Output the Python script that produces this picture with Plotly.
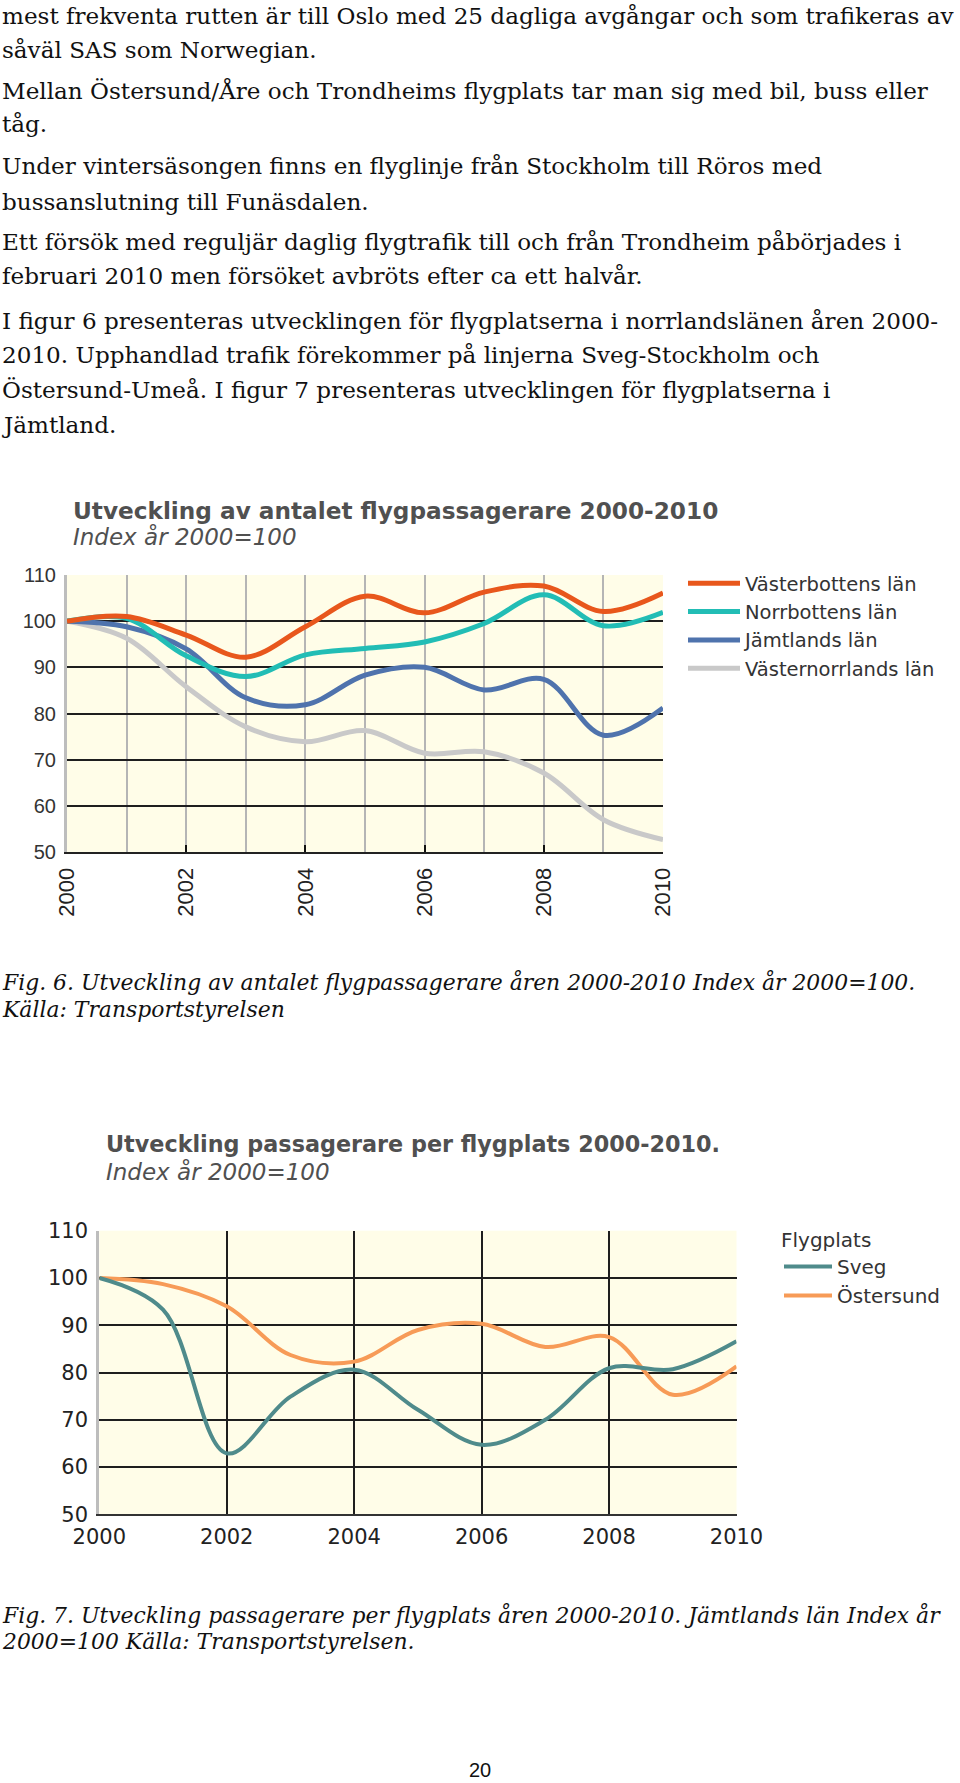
import plotly.graph_objects as go

W, H = 960, 1783

years = list(range(2000, 2011))

# Fig. 6 – index 2000 = 100, per län
vasterbotten = [100, 101.0, 97.0, 92.2, 98.8, 105.4, 101.8, 106.3, 107.6, 102.1, 106.1]
norrbotten = [100, 100.6, 92.5, 88.0, 92.7, 94.1, 95.5, 99.5, 105.7, 99.0, 101.9]
jamtland = [100, 98.8, 94.0, 83.4, 81.9, 88.3, 90.0, 85.1, 87.4, 75.3, 81.2]
vasternorrland = [100, 96.3, 85.8, 77.1, 73.9, 76.3, 71.4, 71.7, 67.1, 57.0, 52.7]

# Fig. 7 – index 2000 = 100, per flygplats
sveg = [100, 93.3, 62.9, 74.9, 80.6, 72.1, 64.7, 70.0, 80.9, 80.7, 86.6]
ostersund = [100, 98.7, 94.0, 83.7, 82.3, 89.0, 90.3, 85.4, 87.5, 75.3, 81.3]

body_lines = [
    "mest frekventa rutten är till Oslo med 25 dagliga avgångar och som trafikeras av",
    "såväl SAS som Norwegian.",
    "Mellan Östersund/Åre och Trondheims flygplats tar man sig med bil, buss eller",
    "tåg.",
    "Under vintersäsongen finns en flyglinje från Stockholm till Röros med",
    "bussanslutning till Funäsdalen.",
    "Ett försök med reguljär daglig flygtrafik till och från Trondheim påbörjades i",
    "februari 2010 men försöket avbröts efter ca ett halvår.",
    "I figur 6 presenteras utvecklingen för flygplatserna i norrlandslänen åren 2000-",
    "2010. Upphandlad trafik förekommer på linjerna Sveg-Stockholm och",
    "Östersund-Umeå. I figur 7 presenteras utvecklingen för flygplatserna i",
    "Jämtland.",
]
body_y = [16, 50, 90, 124, 166, 202, 242, 276, 321, 355, 390, 425]

cap6 = ["Fig. 6. Utveckling av antalet flygpassagerare åren 2000-2010 Index år 2000=100.",
        "Källa: Transportstyrelsen"]
cap6_y = [982, 1009]
cap7 = ["Fig. 7. Utveckling passagerare per flygplats åren 2000-2010. Jämtlands län Index år",
        "2000=100 Källa: Transportstyrelsen."]
cap7_y = [1615, 1641]


def px(x):
    return x / W


def py(y):
    return 1 - y / H


fig = go.Figure()

# chart 1 (drawn bottom-up so the orange line is on top)
c1 = [("Västernorrlands län", vasternorrland, "#C9C9C9"),
      ("Jämtlands län", jamtland, "#4F73AD"),
      ("Norrbottens län", norrbotten, "#22BDB5"),
      ("Västerbottens län", vasterbotten, "#E8571C")]
for name, vals, col in c1:
    fig.add_trace(go.Scatter(x=years, y=vals, name=name, mode="lines",
                             line=dict(color=col, width=5, shape="spline", smoothing=1),
                             xaxis="x", yaxis="y", legend="legend", hoverinfo="skip"))

c2 = [("Östersund", ostersund, "#F79B57"),
      ("Sveg", sveg, "#4F8B8B")]
for name, vals, col in c2:
    fig.add_trace(go.Scatter(x=years, y=vals, name=name, mode="lines",
                             line=dict(color=col, width=4, shape="spline", smoothing=1),
                             xaxis="x2", yaxis="y2", legend="legend2", hoverinfo="skip"))

bg = "#FFFDE8"

fig.update_layout(
    width=W, height=H,
    margin=dict(l=0, r=0, t=0, b=0, autoexpand=False),
    paper_bgcolor="white",
    plot_bgcolor=bg,
    showlegend=True,
    xaxis=dict(domain=[px(67), px(663)], range=[2000, 2010], anchor="y",
               tickmode="linear", tick0=2000, dtick=2, tickangle=-90,
               ticks="inside", ticklen=7, tickwidth=2, tickcolor="#111",
               showgrid=True, gridcolor="#B5B5B5", gridwidth=2,
               minor=dict(tickmode="linear", tick0=2000, dtick=1, showgrid=True,
                          gridcolor="#B5B5B5", gridwidth=2),
               showline=True, linecolor="#222", linewidth=2, zeroline=False,
               automargin=False,
               tickfont=dict(family="Liberation Sans", size=22, color="#222"),
               ticklabelstandoff=5),
    yaxis=dict(domain=[py(852), py(575)], range=[50, 110], anchor="x",
               tickmode="linear", tick0=50, dtick=10,
               showgrid=True, gridcolor="#1E1E1E", gridwidth=1.5,
               showline=True, linecolor="#BDBDBD", linewidth=3, zeroline=False,
               automargin=False,
               ticks="", tickfont=dict(family="Liberation Sans", size=20, color="#333"),
               ticklabelstandoff=4),
    xaxis2=dict(domain=[px(99.3), px(736.5)], range=[2000, 2010], anchor="y2",
                tickmode="linear", tick0=2000, dtick=2,
                ticks="", showgrid=True, gridcolor="#1E1E1E", gridwidth=1.5,
                showline=True, linecolor="#333", linewidth=2, zeroline=False,
                automargin=False,
                tickfont=dict(family="DejaVu Sans", size=21, color="#222"),
                ticklabelstandoff=2),
    yaxis2=dict(domain=[py(1514.3), py(1230.7)], range=[50, 110], anchor="x2",
                tickmode="linear", tick0=50, dtick=10,
                showgrid=True, gridcolor="#1E1E1E", gridwidth=1.5,
                showline=True, linecolor="#BDBDBD", linewidth=3, zeroline=False,
                automargin=False,
                ticks="", tickfont=dict(family="DejaVu Sans", size=21, color="#222"),
                ticklabelstandoff=4),
    legend=dict(x=px(683), y=py(564), xanchor="left", yanchor="top",
                traceorder="reversed", bgcolor="rgba(0,0,0,0)", tracegroupgap=0,
                font=dict(family="DejaVu Sans", size=19.5, color="#333"), itemwidth=52),
    legend2=dict(x=px(779), y=py(1221), xanchor="left", yanchor="top",
                 traceorder="reversed", bgcolor="rgba(0,0,0,0)", tracegroupgap=0,
                 title=dict(text="Flygplats", font=dict(family="DejaVu Sans", size=20, color="#333")),
                 font=dict(family="DejaVu Sans", size=20, color="#333"), itemwidth=48),
)

ann = []
for t, y in zip(body_lines, body_y):
    ann.append(dict(text=t, x=0, y=py(y), xref="paper", yref="paper",
                    xanchor="left", yanchor="middle", showarrow=False,
                    font=dict(family="DejaVu Serif", size=23.1, color="#111")))
for t, y in zip(cap6 + cap7, cap6_y + cap7_y):
    ann.append(dict(text="<i>" + t + "</i>", x=0, y=py(y), xref="paper", yref="paper",
                    xanchor="left", yanchor="middle", showarrow=False,
                    font=dict(family="DejaVu Serif", size=21.9, color="#111")))

titles = [("<b>Utveckling av antalet flygpassagerare 2000-2010</b>", 71, 510, 23.2),
          ("<i>Index år 2000=100</i>", 71, 537, 23),
          ("<b>Utveckling passagerare per flygplats 2000-2010.</b>", 104, 1144, 22.3),
          ("<i>Index år 2000=100</i>", 104, 1171, 23)]
for t, x, y, s in titles:
    ann.append(dict(text=t, x=px(x), y=py(y), xref="paper", yref="paper",
                    xanchor="left", yanchor="middle", showarrow=False,
                    font=dict(family="DejaVu Sans", size=s, color="#505050")))

ann.append(dict(text="20", x=0.5, y=py(1770), xref="paper", yref="paper",
                xanchor="center", yanchor="middle", showarrow=False,
                font=dict(family="Liberation Sans", size=20, color="#111")))

fig.update_layout(annotations=ann)

fig.write_html("out.html",
               config={"displayModeBar": False},
               post_script="document.body.style.margin='0px';document.body.style.overflow='hidden';")
